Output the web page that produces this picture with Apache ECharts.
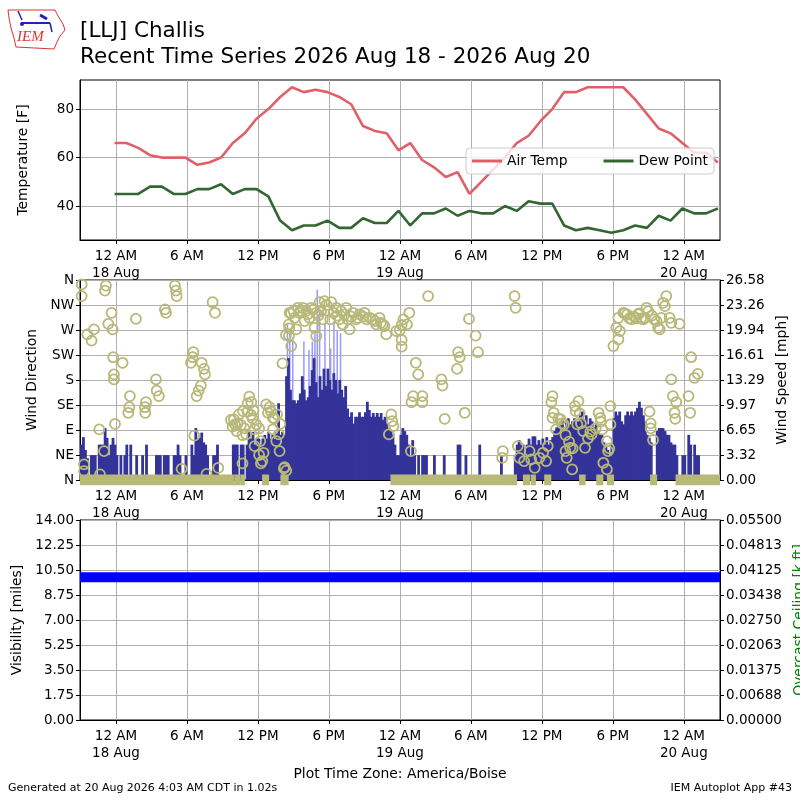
<!DOCTYPE html>
<html>
<head>
<meta charset="utf-8">
<script src="https://cdn.jsdelivr.net/npm/echarts@6/dist/echarts.min.js"></script>
<style>
html, body { margin: 0; padding: 0; background: #fff; }
#main { width: 800px; height: 800px; }
</style>
</head>
<body>
<div id="main"></div>
<script>
// all times are hours from 18 Aug 2026 00:00 America/Boise
var xMin = -3.04, xMax = 51.06;
var xTickHours = [0, 6, 12, 18, 24, 30, 36, 42, 48];
var xTickLabels = ['12 AM\n18 Aug', '6 AM', '12 PM', '6 PM', '12 AM\n19 Aug', '6 AM', '12 PM', '6 PM', '12 AM\n20 Aug'];

// hourly obs, first one at 23:53 on 17 Aug
var obsStart = -0.12;
var airTemp = [66,66,64,61,60,60,60,57,58,60, 66,70,76,80,85,89,87,88,87,85, 82,73,71,70,63,66,59,56,52,54,
               45,50,55,60,66,69,75,80,87,87, 89,89,89,89,84,78,72,70,66,62, 62,58];
var dewPoint = [45,45,45,48,48,45,45,47,47,49, 45,47,47,44,34,30,32,32,34,31, 31,35,33,33,38,32,37,37,39,36,
                38,37,37,40,38,42,41,41,32,30, 31,30,29,30,32,31,36,34,39,37, 37,39];
var tempTicks = [40, 60, 80];

// wind speed [mph], 10 minute bins starting 17 Aug 21:00, one row per hour
var windStart = -3;
var windSpeed = [
  4.7,5.7,4.0,2.9,0,3.3,     3.3,3.3,0,4.7,4.7,4.7,     6.9,5.6,3.3,4.7,5.6,4.7,
  3.3,0,3.3,0,3.3,4.7,       0,4.7,0,0,3.3,0,           0,3.3,0,4.7,0,0,
  0,0,3.3,3.3,3.3,0,         3.3,3.3,3.3,0,0,3.3,       3.3,4.7,3.3,0,0,3.3,
  0,0,4.7,3.3,6.9,5.6,       5.6,6.3,5.0,4.7,3.3,0,     0,3.3,3.3,4.7,0,0,
  0,0,0,0,0,4.7,             4.7,4.7,0,4.7,4.7,0,       4.7,6.4,5.5,6.4,4.7,5.5,
  5.5,4.7,5.5,6.0,5.5,6.4,   5.5,6.0,5.5,6.4,10.2,6.0,  6.4,6.0,13.8,16.2,12.0,10.6,
  10.6,10.2,10.6,11.5,13.8,12.0, 10.6,11.0,12.5,14.6,16.2,13.0, 11.0,13.8,12.0,14.8,12.5,14.8,
  13.3,12.0,14.2,13.3,11.5,13.3, 12.0,11.0,12.5,9.5,8.4,9.0,  7.5,8.4,8.4,9.0,8.4,8.4,
  9.0,10.4,9.3,8.4,8.9,8.4,  8.9,8.4,8.9,8.0,8.4,7.5,   7.0,6.5,6.0,4.7,3.3,3.3,
  6.0,6.9,6.5,6.0,4.7,3.3,   5.3,3.3,0,3.3,0,3.3,       3.3,3.3,0,0,0,3.3,
  0,0,0,0,3.3,0,             0,0,0,0,0,4.7,             4.7,0,0,3.3,0,0,
  0,0,0,0,4.7,0,             0,0,0,0,0,0,               0,0,0,3.3,0,0,
  0,0,0,0,3.3,4.7,           5.3,4.7,4.7,3.3,4.7,5.5,   4.7,5.8,5.8,4.7,5.3,4.7,
  5.5,4.7,5.7,4.7,5.3,5.7,   6.5,7.0,7.0,7.5,8.2,6.5,   7.8,8.2,7.4,7.8,8.2,7.4,
  7.8,8.6,9.1,7.8,8.6,7.4,   8.2,7.8,7.0,7.4,6.5,6.0,   6.0,5.0,4.4,4.0,3.3,4.7,
  8.2,9.1,8.6,9.1,7.8,7.4,   8.6,9.1,8.6,9.1,8.6,9.1,   9.6,10.4,9.6,8.6,7.8,6.0,
  5.6,5.0,0,0,6.5,6.9,       6.9,6.9,6.5,6.0,6.0,5.0,   4.7,4.7,3.3,0,0,3.3,
  3.3,0,6.0,4.7,0,4.7,       3.3,3.3,0,0,0,0,           0,0,0,0,0,0
];
var gustHours = [14.55, 14.75, 15.0, 15.94, 16.37, 16.65, 16.87, 17.07, 17.27, 17.72, 18.2, 18.48, 18.76, 19.04];
var gustSpeed = [20.9, 19.8, 19.0, 18.4, 17.3, 18.4, 19.5, 25.3, 22.4, 20.9, 17.5, 21.1, 19.8, 19.5];

// wind direction [deg]
var dirHours = [
  -2.9,-2.9,-2.7,-2.7,-2.42,-2.06,-1.86,-1.41,-1.35,-1.01,-0.93,-0.85,-0.65,-0.37,-0.28,-0.23,-0.17,-0.17,-0.08,
  0.56,1.04,1.13,1.18,1.69,2.45,2.48,2.54,3.38,3.44,3.63,4.14,4.23,4.99,5.07,5.13,5.55,
  6.34,6.48,6.54,6.62,6.82,6.99,7.18,7.24,7.44,7.52,7.66,8.17,8.37,8.65,
  9.72,9.86,9.97,10.06,10.2,10.28,10.4,10.56,10.7,10.7,10.73,10.85,11.01,11.13,11.13,11.27,11.41,11.44,11.55,11.63,
  11.72,11.72,11.86,12.1,12.1,12.2,12.25,12.37,12.48,12.7,12.85,12.99,13.1,13.27,13.27,13.38,13.55,13.61,13.77,13.83,13.89,
  14.08,14.2,14.25,14.39,14.37,14.62,14.62,14.65,14.68,14.79,14.82,15.01,15.1,15.24,15.38,15.52,15.6,15.8,15.94,
  16.08,16.2,16.37,16.51,16.7,16.79,16.93,16.93,17.1,17.21,17.35,17.49,17.63,17.8,17.92,18.11,18.2,18.4,18.62,18.7,18.9,
  19.04,19.18,19.3,19.46,19.6,19.75,19.9,20.03,20.31,20.45,20.6,20.9,21.01,21.2,21.44,21.72,21.9,22.0,22.28,22.4,22.56,22.7,22.85,
  23.07,23.27,23.35,23.46,23.69,24.0,24.15,24.15,24.15,24.3,24.6,24.8,24.93,24.98,25.12,25.35,25.55,25.9,25.9,26.39,
  27.51,27.6,27.79,28.83,28.92,29.06,29.48,29.84,30.4,30.6,32.65,32.7,33.69,33.78,33.97,34.1,34.5,34.96,35.1,35.4,35.8,
  36.1,36.36,36.5,36.8,36.9,36.9,37.0,37.2,37.4,37.6,37.7,37.87,38.0,38.0,38.1,38.3,38.4,38.56,38.6,38.8,38.85,
  39.0,39.1,39.2,39.3,39.5,39.65,39.9,40.1,40.2,40.55,40.8,40.94,40.97,41.1,41.2,41.5,41.5,41.6,41.7,41.8,41.8,
  42.05,42.3,42.47,42.47,42.6,42.9,43.0,43.2,43.4,43.6,43.8,44.0,44.15,44.2,44.4,44.57,44.7,44.85,45.0,
  45.1,45.2,45.2,45.3,45.4,45.5,45.7,45.83,45.97,46.1,46.25,46.4,46.52,46.8,46.94,46.94,47.08,47.22,47.28,47.36,47.64,
  48.4,48.54,48.62,48.9,49.18
];
var dirDeg = [
  352,331,28,16,262,251,271,91,10,52,341,350,281,301,271,221,190,181,101,
  211,121,131,151,290,131,121,140,181,161,151,307,301,350,341,331,20,
  211,221,230,80,151,161,170,211,200,190,11,320,301,22,
  108,96,109,100,88,102,118,99,81,30,124,93,82,123,138,150,117,140,111,125,
  91,61,100,93,45,70,30,34,49,136,121,131,123,112,91,111,70,118,82,52,101,
  210,21,23,17,261,260,280,273,301,300,241,304,292,271,310,301,304,310,286,
  304,298,292,310,307,274,259,301,296,320,304,289,322,315,304,289,320,301,310,296,289,
  304,280,298,310,289,271,294,301,289,292,298,294,301,289,292,289,286,280,292,283,280,277,262,
  82,118,106,97,268,270,279,252,240,289,280,301,52,140,151,211,190,151,140,331,
  181,170,110,200,230,221,121,290,260,230,40,52,331,310,61,40,34,52,37,22,40,
  49,34,61,140,151,112,121,91,111,109,102,100,81,52,40,69,58,19,57,133,124,
  100,142,120,102,88,58,75,87,82,93,121,112,105,91,31,70,19,52,57,133,100,
  241,274,253,292,268,301,300,298,291,289,294,291,298,300,291,289,292,310,304,
  123,102,93,296,72,289,286,274,271,292,319,313,331,292,283,181,151,121,110,140,281,
  151,121,221,184,191
];
// calm reports plotted at 0 deg: [start, end] hours
var calmSpans = [[-3.04, 10.0], [10.0, 10.5], [10.5, 10.9], [12.35, 12.95], [13.9, 14.6],
                 [23.2, 33.9], [34.4, 35.0], [35.05, 35.5], [36.2, 36.8], [39.15, 39.7],
                 [40.6, 41.2], [41.5, 42.1], [45.15, 45.75], [47.3, 51.06]];

var dirTickLabels = ['N', 'NE', 'E', 'SE', 'S', 'SW', 'W', 'NW', 'N'];
var speedTickLabels = ['0.00', '3.32', '6.65', '9.97', '13.29', '16.61', '19.94', '23.26', '26.58'];

// visibility [miles]
var visHours = [-3.04, 9.0, 21.0, 33.0, 45.0, 51.06];
var visMiles = [10, 10, 10, 10, 10, 10];
var ceilingTickLabels = ['0.00000', '0.00688', '0.01375', '0.02063', '0.02750', '0.03438', '0.04125', '0.04813', '0.05500'];

var FONT = 'DejaVu Sans';
var TICK_FS = 13.5;
var OLIVE = '#b8b878';

var myChart = echarts.init(document.getElementById('main'));

function xAxisFor(g) {
    return {
        type: 'value', gridIndex: g, min: xMin, max: xMax,
        axisLine: { onZero: false, lineStyle: { color: '#000' } },
        axisTick: { customValues: xTickHours, length: 4, lineStyle: { color: '#000' } },
        axisLabel: {
            customValues: xTickHours, color: '#000', fontSize: TICK_FS, fontFamily: FONT,
            lineHeight: 17, margin: 8,
            formatter: function (v) {
                var i = xTickHours.indexOf(Math.round(v));
                return i < 0 ? '' : xTickLabels[i];
            }
        },
        splitLine: { show: true, lineStyle: { color: '#b0b0b0', width: 1 } }
    };
}

function yName(text, gap, color) {
    return {
        name: text, nameLocation: 'middle', nameGap: gap, nameRotate: 90,
        nameTextStyle: { fontSize: 13.9, fontFamily: FONT, color: color || '#000' }
    };
}

var axisText = { color: '#000', fontSize: TICK_FS, fontFamily: FONT, margin: 6 };
var blackLine = { show: true, onZero: false, lineStyle: { color: '#000' } };
var blackTick = { show: true, length: 4, lineStyle: { color: '#000' } };
var gridLine = { show: true, lineStyle: { color: '#b0b0b0', width: 1 } };

var series = [];
series.push({
    name: 'Air Temp', type: 'line', xAxisIndex: 0, yAxisIndex: 0,
    data: airTemp.map(function (v, i) { return [obsStart + i, v]; }),
    symbol: 'none', lineStyle: { color: '#e0606a', width: 2.6 }, itemStyle: { color: '#e0606a' }
});
series.push({
    name: 'Dew Point', type: 'line', xAxisIndex: 0, yAxisIndex: 0,
    data: dewPoint.map(function (v, i) { return [obsStart + i, v]; }),
    symbol: 'none', lineStyle: { color: '#336633', width: 2.6 }, itemStyle: { color: '#336633' }
});
series.push({
    name: 'Gust', type: 'bar', xAxisIndex: 1, yAxisIndex: 2,
    data: gustHours.map(function (h, i) { return [h, gustSpeed[i]]; }),
    barWidth: 1.5, barGap: '-100%', itemStyle: { color: '#9999ff' }, z: 2
});
series.push({
    name: 'Wind Speed', type: 'bar', xAxisIndex: 1, yAxisIndex: 2,
    data: windSpeed.map(function (v, i) { return [windStart + i / 6 + 1 / 12, v]; })
                   .filter(function (d) { return d[1] > 0; }),
    barWidth: 2.8, barGap: '-100%', itemStyle: { color: '#333399' }, z: 3
});
calmSpans.forEach(function (s) {
    series.push({
        type: 'line', xAxisIndex: 1, yAxisIndex: 1, silent: true, clip: true,
        data: [[s[0], 0], [s[1], 0]], symbol: 'none',
        lineStyle: { color: OLIVE, width: 11 }, z: 4
    });
});
series.push({
    name: 'Wind Direction', type: 'scatter', xAxisIndex: 1, yAxisIndex: 1,
    data: dirHours.map(function (h, i) { return [h, dirDeg[i]]; }),
    symbol: 'circle', symbolSize: 10,
    itemStyle: { color: 'rgba(0,0,0,0)', borderColor: OLIVE, borderWidth: 1.8, opacity: 1 }, z: 5
});
series.push({
    name: 'Visibility', type: 'line', xAxisIndex: 2, yAxisIndex: 3,
    data: visHours.map(function (h, i) { return [h, visMiles[i]]; }),
    symbol: 'none', lineStyle: { color: '#0000ff', width: 10 }
});

function gridAt(top, height) {
    return { left: 80, right: 80, top: top, height: height, show: true,
             borderColor: '#000', borderWidth: 1, containLabel: false, outerBoundsMode: 'none' };
}

var option = {
    animation: false,
    backgroundColor: '#fff',
    textStyle: { fontFamily: FONT },
    grid: [gridAt(80, 160), gridAt(280, 200), gridAt(520, 200)],
    legend: {
        data: [{ name: 'Air Temp', icon: 'rect' }, { name: 'Dew Point', icon: 'rect' }],
        left: 466, top: 148,
        itemWidth: 30, itemHeight: 3, itemGap: 36, padding: [6, 6],
        textStyle: { fontSize: 13.9, fontFamily: FONT, color: '#000' },
        backgroundColor: 'rgba(255,255,255,0.8)', borderColor: '#cccccc', borderWidth: 1, borderRadius: 4
    },
    xAxis: [xAxisFor(0), xAxisFor(1), xAxisFor(2)],
    yAxis: [
        Object.assign({
            type: 'value', gridIndex: 0, min: 26, max: 92,
            axisLine: blackLine,
            axisTick: { customValues: tempTicks, length: 4, lineStyle: { color: '#000' } },
            axisLabel: Object.assign({ customValues: tempTicks }, axisText),
            splitLine: gridLine
        }, yName('Temperature [F]', 50)),
        Object.assign({
            type: 'value', gridIndex: 1, min: 0, max: 360, interval: 45,
            axisLine: blackLine, axisTick: blackTick,
            axisLabel: Object.assign({
                formatter: function (v) { return dirTickLabels[Math.round(v / 45)]; }
            }, axisText),
            splitLine: gridLine
        }, yName('Wind Direction', 34)),
        Object.assign({
            type: 'value', gridIndex: 1, position: 'right', min: 0, max: 26.58, interval: 3.3225,
            axisLine: blackLine, axisTick: blackTick,
            axisLabel: Object.assign({
                formatter: function (v) { return speedTickLabels[Math.round(v / 3.3225)]; }
            }, axisText),
            splitLine: { show: false }
        }, yName('Wind Speed [mph]', 50)),
        Object.assign({
            type: 'value', gridIndex: 2, min: 0, max: 14, interval: 1.75,
            axisLine: blackLine, axisTick: blackTick,
            axisLabel: Object.assign({
                formatter: function (v) { return v.toFixed(2); }
            }, axisText),
            splitLine: gridLine
        }, yName('Visibility [miles]', 50)),
        Object.assign({
            type: 'value', gridIndex: 2, position: 'right', min: 0, max: 0.055, interval: 0.006875,
            axisLine: blackLine, axisTick: blackTick,
            axisLabel: Object.assign({
                formatter: function (v) { return ceilingTickLabels[Math.round(v / 0.006875)]; }
            }, axisText),
            splitLine: { show: false }
        }, yName('Overcast Ceiling [k ft]', 64, '#008000'))
    ],
    graphic: [
        // IEM logo, roughly
        { type: 'polyline', shape: { points: [[8,10],[55,10],[58,16],[63,24],[65,30],[60,36],[57,42],[54,49],[16,47],[14,38],[11,28],[9,18],[8,10]] },
          style: { stroke: '#dd3333', lineWidth: 1, fill: 'none' } },
        { type: 'line', shape: { x1: 21, y1: 23, x2: 50, y2: 23 }, style: { stroke: '#2222bb', lineWidth: 2 } },
        { type: 'line', shape: { x1: 18, y1: 11, x2: 22, y2: 20 }, style: { stroke: '#2222bb', lineWidth: 1.5 } },
        { type: 'line', shape: { x1: 40, y1: 15, x2: 47, y2: 19 }, style: { stroke: '#2222bb', lineWidth: 3 } },
        { type: 'line', shape: { x1: 50, y1: 23, x2: 52, y2: 32 }, style: { stroke: '#2222bb', lineWidth: 1.5 } },
        { type: 'circle', shape: { cx: 22, cy: 24, r: 2 }, style: { fill: '#2222bb' } },
        { type: 'text', left: 17, top: 30, style: { text: 'IEM', font: 'italic 15px "Liberation Serif"', fill: '#dd3333' } },
        // titles
        { type: 'text', left: 80, top: 20, style: { text: '[LLJ] Challis', font: '21.5px "DejaVu Sans"', fill: '#000' } },
        { type: 'text', left: 80, top: 46, style: { text: 'Recent Time Series 2026 Aug 18 - 2026 Aug 20', font: '21.5px "DejaVu Sans"', fill: '#000' } },
        // footer
        { type: 'text', left: 'center', top: 767, style: { text: 'Plot Time Zone: America/Boise', font: '13.9px "DejaVu Sans"', fill: '#000' } },
        { type: 'text', left: 8, top: 783, style: { text: 'Generated at 20 Aug 2026 4:03 AM CDT in 1.02s', font: '11px "DejaVu Sans"', fill: '#000' } },
        { type: 'text', right: 8, top: 783, style: { text: 'IEM Autoplot App #43', font: '11px "DejaVu Sans"', fill: '#000' } }
    ],
    series: series
};

myChart.setOption(option);
</script>
</body>
</html>
